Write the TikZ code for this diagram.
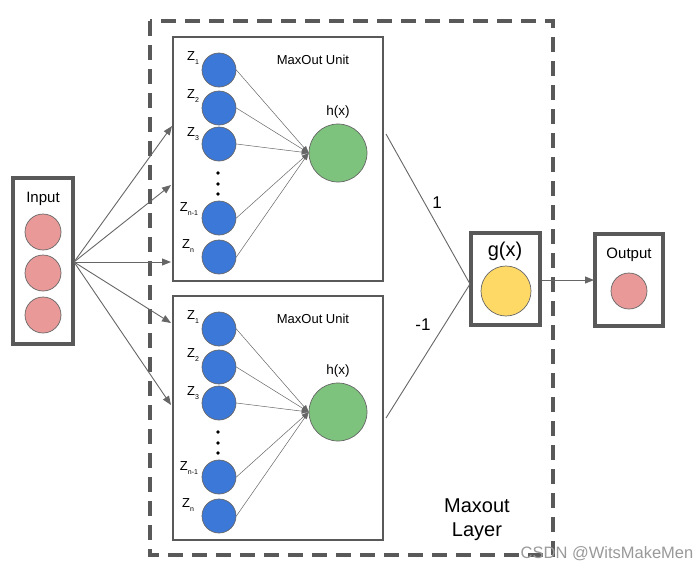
\documentclass[tikz,border=0pt]{standalone}
\usepackage{fontspec}
\setmainfont{Liberation Sans}
\usetikzlibrary{arrows.meta,calc}
\definecolor{boxgray}{HTML}{595959}
\definecolor{linegray}{HTML}{666666}
\definecolor{pinkc}{HTML}{EA9999}
\definecolor{bluec}{HTML}{3C78D8}
\definecolor{greenc}{HTML}{7DC27D}
\definecolor{yellowc}{HTML}{FFD966}
\newcommand{\zsub}[1]{Z\raisebox{-4pt}{\fontsize{7}{8}\selectfont #1}}
\tikzset{
  thickbox/.style={draw=boxgray,line width=4pt},
  unitbox/.style={draw=boxgray,line width=1.6pt},
  circ/.style={circle,draw=linegray,line width=0.7pt,inner sep=0pt},
  zc/.style={circ,fill=bluec,minimum size=34pt},
  pc/.style={circ,fill=pinkc,minimum size=36pt},
  conn/.style={draw=linegray,line width=0.9pt},
  arr/.style={conn,-{Triangle[length=9pt,width=7pt]}},
  thinarr/.style={draw=linegray,line width=0.5pt,-{Triangle[length=7pt,width=5pt]}},
  zlab/.style={font=\fontsize{13}{15}\selectfont,inner sep=0pt},
}
\begin{document}
\begin{tikzpicture}[x=1pt,y=-1pt]
\useasboundingbox (0,0) rectangle (700,571);
% outer dashed layer
\draw[draw=boxgray,line width=4pt,dash pattern=on 15pt off 9pt] (150,21) rectangle (553,555);
% input
\draw[thickbox] (13,178) rectangle (73,344);
\node[font=\fontsize{15}{18}\selectfont] (inlab) at (43,199) {Input};
\node[pc] (i1) at (43,232) {};
\node[pc] (i2) at (43,273) {};
\node[pc] (i3) at (43,315) {};
\coordinate (fan) at (74,262);
% MaxOut units
\foreach \u/\dy in {a/0,b/259}{
  \begin{scope}[yshift=-\dy pt]
  \draw[unitbox] (173,37) rectangle (383,281);
  \node[font=\fontsize{13}{15}\selectfont] (mu\u) at (313,60) {MaxOut Unit};
  \node[circ,fill=greenc,minimum size=58pt] (h\u) at (338,153) {};
  \node[font=\fontsize{13.5}{16}\selectfont] (hl\u) at (338,112) {h(x)};
  \node[zc] (z1\u) at (219,70) {};
  \node[zc] (z2\u) at (219,108) {};
  \node[zc] (z3\u) at (219,144) {};
  \node[zc] (z4\u) at (219,218) {};
  \node[zc] (z5\u) at (219,257) {};
  \node[zlab] (l1\u) at (193,58) {\zsub{1}};
  \node[zlab] (l2\u) at (193,96) {\zsub{2}};
  \node[zlab] (l3\u) at (193,134) {\zsub{3}};
  \node[zlab] (l4\u) at (189,209) {\zsub{n-1}};
  \node[zlab] (l5\u) at (188,246) {\zsub{n}};
  \foreach \yy/\k in {173/1,184/2,194/3}{
    \fill[black] (218,\yy) circle (1.8pt);
  }
  \foreach \k in {1,...,5}{
    \draw[thinarr] (z\k\u.east) -- (h\u.west);
  }
  \end{scope}
}
% input arrows
\coordinate (e1) at (172,126);
\coordinate (e2) at (171,185);
\coordinate (e3) at (171,262);
\coordinate (e4) at (171,323);
\coordinate (e5) at (171,405);
\foreach \k in {1,...,5}{
  \draw[arr] (fan) -- (e\k);
}
% g(x)
\draw[thickbox] (471,233) rectangle (540,325);
\node[font=\fontsize{20}{24}\selectfont] (gl) at (505,251) {g(x)};
\node[circ,fill=yellowc,minimum size=50pt] (g) at (506,291) {};
\coordinate (gin) at (470,284);
\coordinate (ua) at (386,134);
\coordinate (ub) at (386,418);
\draw[conn] (ua) -- (gin);
\draw[conn] (ub) -- (gin);
\node[font=\fontsize{17}{20}\selectfont] (w1) at (437,203) {1};
\node[font=\fontsize{17}{20}\selectfont] (w2) at (423,325) {-1};
% output
\draw[thickbox] (595,234) rectangle (663,326);
\node[font=\fontsize{15}{18}\selectfont] (ol) at (629,255) {Output};
\node[pc] (o) at (629,291) {};
\coordinate (gout) at (542,280);
\coordinate (oin) at (594,280);
\draw[arr] (gout) -- (oin);
% layer label
\node[font=\fontsize{20}{24}\selectfont,align=center] (ml) at (477,520) {Maxout\\Layer};
% watermark
\node[font=\fontsize{16.5}{19}\selectfont,text=black!40] (wm) at (607,554) {CSDN @WitsMakeMen};
\end{tikzpicture}
\end{document}
